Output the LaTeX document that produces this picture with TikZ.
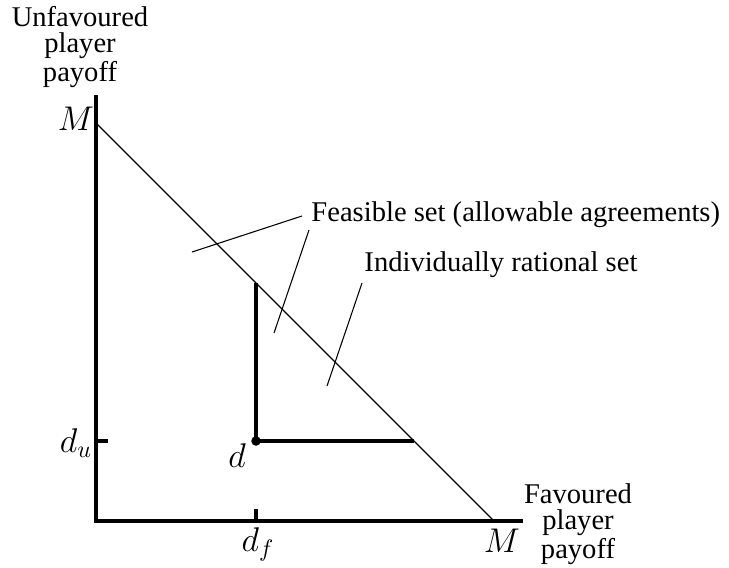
\documentclass[tikz,border=0pt]{standalone}
\usepackage{fontspec}
\setmainfont{Liberation Serif}
\begin{document}
\begin{tikzpicture}[x=0.42pt,y=-0.42pt,
  axis/.style={line width=1.3pt,line cap=butt,line join=miter},
  thin/.style={line width=0.45pt},
  lbl/.style={inner sep=0pt,font=\fontsize{12}{11}\selectfont},
  ml/.style={inner sep=0pt,font=\fontsize{14}{16}\selectfont}]
\useasboundingbox (0,0) rectangle (729,567);
% axes
\coordinate (ytop) at (96,95);
\coordinate (o) at (96,521);
\coordinate (xend) at (523,521);
\draw[axis] (ytop) -- (o) -- (xend);
% diagonal
\coordinate (mtop) at (96,123);
\coordinate (mbot) at (494,521);
\draw[thin] (mtop) -- (mbot);
% disagreement point
\coordinate (d) at (256,441);
\coordinate (dv) at (256,283);
\coordinate (dh) at (414,441);
\draw[axis] (dv) -- (d) -- (dh);
\fill (d) circle[radius=2pt];
% ticks
\coordinate (du) at (96,441);
\coordinate (duend) at (108,441);
\coordinate (df) at (256,521);
\coordinate (dfend) at (256,509);
\draw[axis] (du) -- (duend);
\draw[axis] (df) -- (dfend);
% labels
\node[ml] (Mt) at (76,119) {$M$};
\node[ml] (Mb) at (502,541) {$M$};
\node[ml] (dulbl) at (76,443) {$d_u$};
\node[ml] (dflbl) at (258,544) {$d_f$};
\node[ml] (dlbl) at (237,456) {$d$};
\node[lbl,align=center] (ylab) at (80,47) {Unfavoured\\player\\payoff};
\node[lbl,align=center] (xlab) at (578,524) {Favoured\\player\\payoff};
\node[lbl,anchor=west] (feas) at (311,215) {Feasible set (allowable agreements)};
\node[lbl,anchor=west] (indiv) at (364,265) {Individually rational set};
% leader lines
\coordinate (l1a) at (192,252);
\coordinate (l1b) at (302,216);
\coordinate (l2a) at (309,230);
\coordinate (l2b) at (274,333);
\coordinate (l3a) at (362,283);
\coordinate (l3b) at (327,386);
\draw[thin] (l1a) -- (l1b);
\draw[thin] (l2a) -- (l2b);
\draw[thin] (l3a) -- (l3b);
\end{tikzpicture}
\end{document}
